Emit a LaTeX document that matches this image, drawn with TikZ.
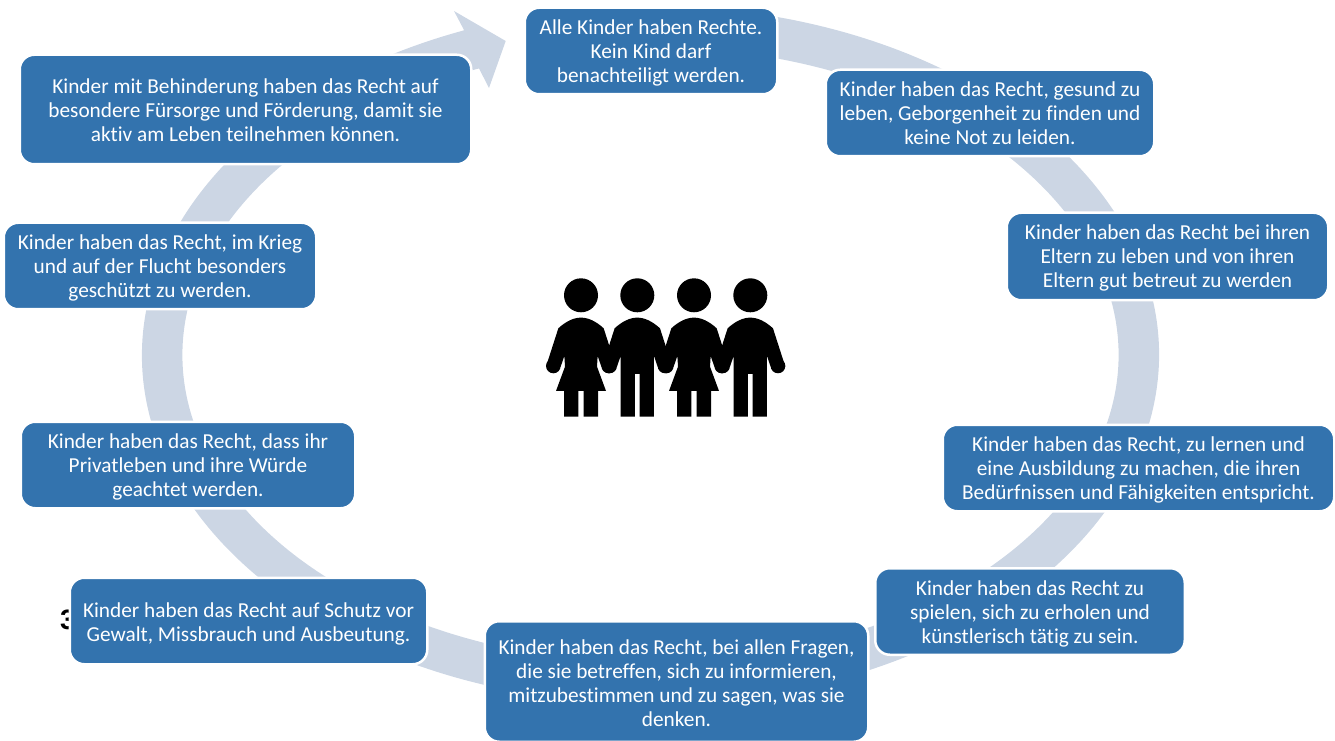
\documentclass[tikz,border=0pt]{standalone}
\usepackage{fontspec}
\setmainfont{Carlito}[Ligatures=NoCommon]
\newfontfamily\digitfont{Liberation Sans}
\usetikzlibrary{calc}
\definecolor{boxblue}{HTML}{3373AE}
\definecolor{ringblue}{HTML}{CCD6E4}

\newcommand{\firststrut}[1]{\rule{0pt}{#1pt}}
\newcommand{\kidtop}{
	\fill (0,0) circle[radius=51];
	\fill (-83,212) circle[radius=22];
	\fill (83,212) circle[radius=22];
}
\newcommand{\girlkid}[1]{
	\begin{scope}[shift={(#1,444.7)}, x=0.3333pt, y=-0.3333pt]
		\kidtop
		\fill (-68,99) .. controls (-45,78) and (-22,67) .. (0,67) .. controls (22,67) and (45,78) .. (68,99)
			-- (105,214) -- (61,214) -- (50,182) -- (48,214) -- (75,287) -- (51,287) -- (51,364) -- (8,364) -- (8,287)
			-- (-8,287) -- (-8,364) -- (-51,364) -- (-51,287) -- (-75,287) -- (-48,214) -- (-50,182) -- (-61,214) -- (-105,214) -- cycle;
	\end{scope}
}
\newcommand{\boykid}[1]{
	\begin{scope}[shift={(#1,444.7)}, x=0.3333pt, y=-0.3333pt]
		\kidtop
		\fill (-68,99) .. controls (-45,78) and (-22,67) .. (0,67) .. controls (22,67) and (45,78) .. (68,99)
			-- (105,214) -- (61,214) -- (50,182) -- (50,364) -- (7,364) -- (7,236)
			-- (-7,236) -- (-7,364) -- (-50,364) -- (-50,182) -- (-61,214) -- (-105,214) -- cycle;
	\end{scope}
}

\begin{document}
\begin{tikzpicture}[x=1pt, y=1pt,
	rightbox/.style={rectangle, rounded corners=14.5pt, draw=white, line width=2.5pt, fill=boxblue, text=white, align=center, inner sep=0pt, font=\fontsize{21.3}{24}\selectfont}]
	\useasboundingbox (0,0) rectangle (1335,740);

	\coordinate (ringc) at (650.5,385);
	\coordinate (barbtop) at (454,729);
	\coordinate (tip) at (505.7,699);
	\coordinate (barbbot) at (489,652);

	%ring with its head at the top
	\fill[ringblue] ($(ringc)+(80:508.5pt and 349pt)$) arc[start angle=80, end angle=-248.5, x radius=508.5pt, y radius=349pt]
		-- (barbtop) -- (tip) -- (barbbot)
		-- ($(ringc)+(-248.5:468pt and 308pt)$) arc[start angle=-248.5, end angle=80, x radius=468pt, y radius=308pt] -- cycle;

	\node[font=\digitfont\bfseries\fontsize{28}{30}\selectfont] (three) at (68,120) {3};

	\node[rightbox, minimum width=252.5pt, minimum height=86.5pt] (r1) at (651,689) {\firststrut{19}Alle Kinder haben Rechte.\\Kein Kind darf\\benachteiligt werden.};
	\node[rightbox, minimum width=328.5pt, minimum height=86.5pt] (r2) at (990,627) {Kinder haben das Recht, gesund zu\\leben, Geborgenheit zu finden und\\keine Not zu leiden.};
	\node[rightbox, minimum width=321.5pt, minimum height=87.5pt] (r3) at (1167.5,483.5) {\firststrut{17}Kinder haben das Recht bei ihren\\Eltern zu leben und von ihren\\Eltern gut betreut zu werden};
	\node[rightbox, minimum width=391.5pt, minimum height=86.5pt] (r4) at (1138.5,272) {\firststrut{19}Kinder haben das Recht, zu lernen und\\eine Ausbildung zu machen, die ihren\\Bedürfnissen und Fähigkeiten entspricht.};
	\node[rightbox, minimum width=309.5pt, minimum height=86.5pt] (r5) at (1030,128.5) {\firststrut{19}Kinder haben das Recht zu\\spielen, sich zu erholen und\\künstlerisch tätig zu sein.};
	\node[rightbox, minimum width=383.5pt, minimum height=120.5pt] (r6) at (676.5,58.5) {\firststrut{19}Kinder haben das Recht, bei allen Fragen,\\die sie betreffen, sich zu informieren,\\mitzubestimmen und zu sagen, was sie\\denken.};
	\node[rightbox, minimum width=357.5pt, minimum height=86.5pt] (r7) at (248.5,119) {\firststrut{21}Kinder haben das Recht auf Schutz vor\\Gewalt, Missbrauch und Ausbeutung.};
	\node[rightbox, minimum width=334.5pt, minimum height=86.5pt] (r8) at (188,275) {\firststrut{19}Kinder haben das Recht, dass ihr\\Privatleben und ihre Würde\\geachtet werden.};
	\node[rightbox, minimum width=312.5pt, minimum height=86.5pt] (r9) at (160,474) {\firststrut{19}Kinder haben das Recht, im Krieg\\und auf der Flucht besonders\\geschützt zu werden.};
	\node[rightbox, minimum width=451.5pt, minimum height=109.5pt] (r10) at (245.5,630.5) {\firststrut{17}Kinder mit Behinderung haben das Recht auf\\besondere Fürsorge und Förderung, damit sie\\aktiv am Leben teilnehmen können.};

	\girlkid{581}
	\boykid{637.3}
	\girlkid{694}
	\boykid{750.3}
\end{tikzpicture}
\end{document}
